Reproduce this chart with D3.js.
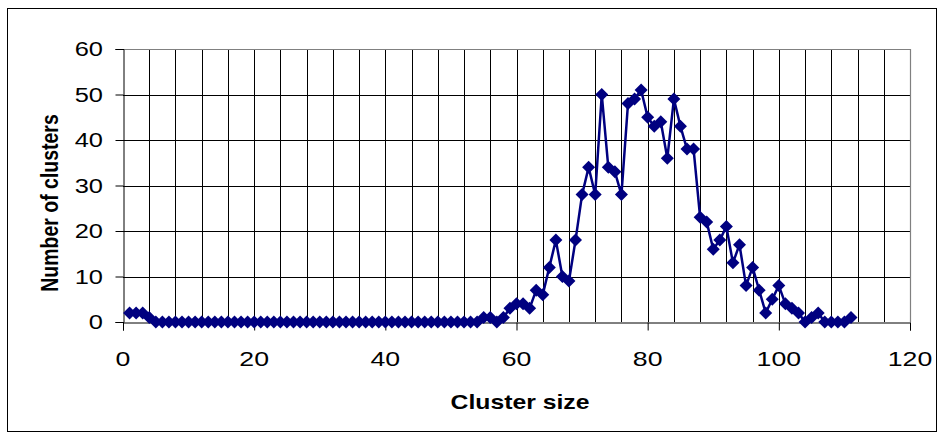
<!DOCTYPE html>
<html><head><meta charset="utf-8">
<script src="https://cdn.jsdelivr.net/npm/d3@7"></script>
<style>body{margin:0;background:#fff}svg{display:block}</style></head>
<body><svg id="c" width="944" height="440"></svg>
<script>
const clusterSize = [1,2,3,4,5,6,7,8,9,10,11,12,13,14,15,16,17,18,19,20,
  21,22,23,24,25,26,27,28,29,30,31,32,33,34,35,36,37,38,39,40,
  41,42,43,44,45,46,47,48,49,50,51,52,53,54,55,56,57,58,59,60,
  61,62,63,64,65,66,67,68,69,70,71,72,73,74,75,76,77,78,79,80,
  81,82,83,84,85,86,87,88,89,90,91,92,93,94,95,96,97,98,99,100,
  101,102,103,104,105,106,107,108,109,110,111];
const numClusters = [2,2,2,1,0,0,0,0,0,0,0,0,0,0,0,0,0,0,0,0,
  0,0,0,0,0,0,0,0,0,0,0,0,0,0,0,0,0,0,0,0,
  0,0,0,0,0,0,0,0,0,0,0,0,0,0,1,1,0,1,3,4,
  4,3,7,6,12,18,10,9,18,28,34,28,50,34,33,28,48,49,51,45,
  43,44,36,49,43,38,38,23,22,16,18,21,13,17,8,12,7,2,5,8,
  4,3,2,0,1,2,0,0,0,0,1];
const xTicks = [0,20,40,60,80,100,120];
const yTicks = [0,10,20,30,40,50,60];
const xGrid = [4,8,12,16,20,24,28,32,36,40,44,48,52,56,60,64,68,72,76,80,84,88,92,96,100,104,108,112,116];
const yGrid = [10,20,30,40,50];
const xTitle = "Cluster size";
const yTitle = "Number of clusters";

const svg = d3.select("#c");
const font = "Arial, 'Liberation Sans', sans-serif";
const SX = 1.27; // horizontal stretch of the original picture's text
const L = 123, R = 910, T = 49, B = 322;
const x = d3.scaleLinear().domain([0,120]).range([L,R]);
const y = d3.scaleLinear().domain([0,60]).range([B,T]);

// outer frame
svg.append("rect").attr("x",7.5).attr("y",8.5).attr("width",929).attr("height",423)
  .attr("fill","#fff").attr("stroke","#000").attr("stroke-width",1);

// gridlines
svg.append("g").selectAll("line").data(xGrid).join("line")
  .attr("x1",d=>Math.round(x(d))+0.5).attr("x2",d=>Math.round(x(d))+0.5)
  .attr("y1",T).attr("y2",B).attr("stroke","#000").attr("stroke-width",1);
svg.append("g").selectAll("line").data(yGrid).join("line")
  .attr("y1",d=>Math.round(y(d))+0.5).attr("y2",d=>Math.round(y(d))+0.5)
  .attr("x1",L).attr("x2",R).attr("stroke","#000").attr("stroke-width",1);

// plot border (grey) top/right
svg.append("path").attr("d",`M${L},${T+0.5}H${R+0.5}V${B}`).attr("fill","none").attr("stroke","#808080").attr("stroke-width",1.2);

// y axis
const ya = svg.append("g").attr("transform",`translate(${L+0.5},0)`)
  .call(d3.axisLeft(y).tickValues(yTicks).tickSize(8).tickFormat(""));
ya.select(".domain").attr("stroke","#000");
ya.selectAll(".tick line").attr("stroke","#000");
svg.append("g").selectAll("text").data(yTicks).join("text")
  .attr("transform",d=>`translate(103,${y(d)+7}) scale(${SX},1)`)
  .attr("text-anchor","end").attr("font-family",font).attr("font-size",20).attr("fill","#000")
  .text(d=>d);

// x axis
const xa = svg.append("g").attr("transform",`translate(0,${B+0.5})`)
  .call(d3.axisBottom(x).tickValues(xTicks).tickSize(8).tickFormat(""));
xa.select(".domain").attr("stroke","#000");
xa.selectAll(".tick line").attr("stroke","#000");
svg.append("g").selectAll("text").data(xTicks).join("text")
  .attr("transform",d=>`translate(${x(d)},366) scale(${SX},1)`)
  .attr("text-anchor","middle").attr("font-family",font).attr("font-size",21).attr("fill","#000")
  .text(d=>d);

// series
const data = clusterSize.map((s,i)=>({s, n:numClusters[i]}));
svg.append("path").datum(data)
  .attr("d", d3.line().x(d=>x(d.s)).y(d=>y(d.n)))
  .attr("fill","none").attr("stroke","#000080").attr("stroke-width",2.5).attr("stroke-linejoin","round");
const r = 6.5;
svg.append("g").selectAll("path").data(data).join("path")
  .attr("transform",d=>`translate(${x(d.s)},${y(d.n)})`)
  .attr("d",`M0,${-r}L${r},0L0,${r}L${-r},0Z`)
  .attr("fill","#000080");

// titles
svg.append("text").attr("transform",`translate(520,409) scale(${SX},1)`).attr("text-anchor","middle")
  .attr("font-family",font).attr("font-weight","bold").attr("font-size",19.5).text(xTitle);
svg.append("text").attr("transform",`translate(58,203) scale(${SX},1) rotate(-90)`).attr("text-anchor","middle")
  .attr("font-family",font).attr("font-weight","bold").attr("font-size",19.5).text(yTitle);
</script></body></html>
